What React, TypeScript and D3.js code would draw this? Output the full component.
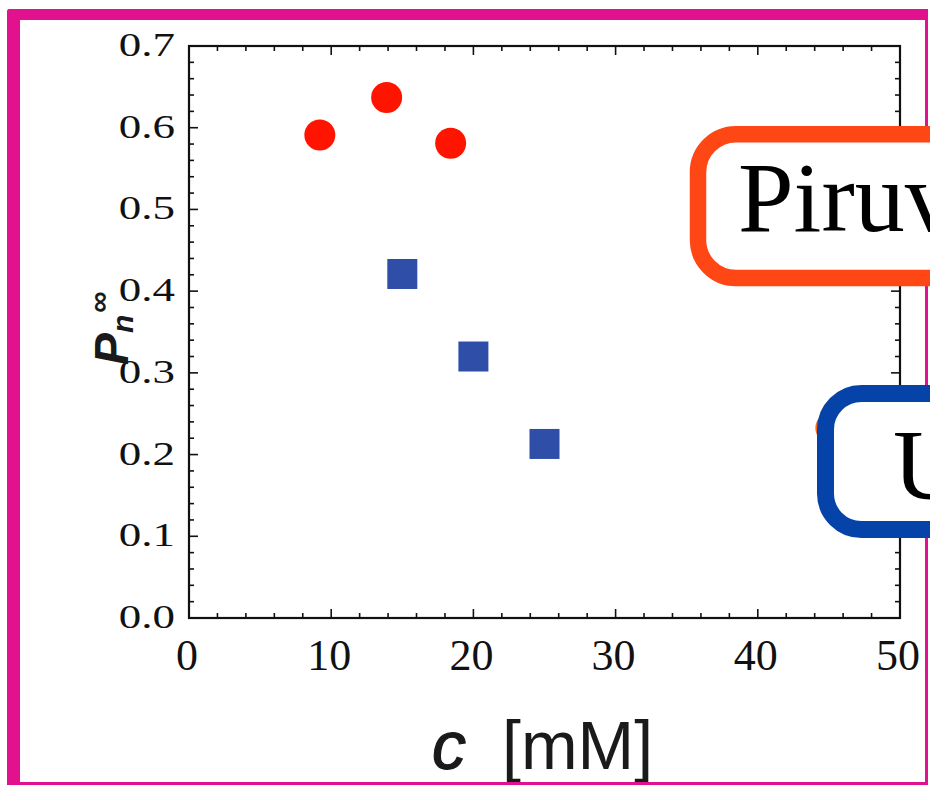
import React from "react";
import * as d3 from "d3";

// Data
const pyruvateC = [9.2, 13.9, 18.4];
const pyruvateP = [0.591, 0.637, 0.581];
const ureaC = [15, 20, 25];
const ureaP = [0.421, 0.32, 0.213];
const hiddenC = [45.1];
const hiddenP = [0.2325];

const xTickValues = [0, 10, 20, 30, 40, 50];
const yTickValues = [0, 0.1, 0.2, 0.3, 0.4, 0.5, 0.6, 0.7];
const labelTop = "Piruv";
const labelBottom = "U";

const W = 930;
const H = 787;
const left = 189, right = 900, top = 46, bottom = 618;

export default function App() {
  const x = d3.scaleLinear().domain([0, 50]).range([left, right]);
  const y = d3.scaleLinear().domain([0, 0.7]).range([bottom, top]);

  const xMinor = d3.range(0, 50.001, 2);
  const yMinor = d3.range(0, 0.7001, 0.02);
  const isMajorX = (v: number) => Math.round(v) % 10 === 0;
  const isMajorY = (v: number) => Math.round(v * 100) % 10 === 0;
  const magenta = "#e2128f";
  const serif = "'Liberation Serif', 'Times New Roman', serif";
  const sans = "'Liberation Sans', Arial, sans-serif";

  return (
    <svg
      width={W}
      height={H}
      viewBox={`0 0 ${W} ${H}`}
      style={{ position: "absolute", left: 0, top: 0, background: "#fff" }}
    >
      <defs>
        <clipPath id="pageClip">
          <rect x={0} y={0} width={W} height={H} />
        </clipPath>
      </defs>
      <rect x={0} y={0} width={W} height={H} fill="#fff" />

      {/* Plot frame */}
      <rect x={left} y={top} width={right - left} height={bottom - top} fill="none" stroke="#111" strokeWidth={2.2} />

      {/* X ticks (bottom and top, inward) */}
      {xMinor.map((v, i) => {
        const len = isMajorX(v) ? 9 : 5;
        return (
          <g key={"xt" + i} stroke="#111" strokeWidth={1.6}>
            <line x1={x(v)} x2={x(v)} y1={bottom} y2={bottom - len} />
            <line x1={x(v)} x2={x(v)} y1={top} y2={top + len} />
          </g>
        );
      })}
      {/* Y ticks (left and right, inward) */}
      {yMinor.map((v, i) => {
        const len = isMajorY(v) ? 9 : 5;
        return (
          <g key={"yt" + i} stroke="#111" strokeWidth={1.6}>
            <line x1={left} x2={left + len} y1={y(v)} y2={y(v)} />
            <line x1={right} x2={right - len} y1={y(v)} y2={y(v)} />
          </g>
        );
      })}

      {/* X tick labels */}
      {xTickValues.map((v) => (
        <text key={"xl" + v} x={x(v) - 2} y={670} textAnchor="middle" fontFamily={serif} fontSize={44} fill="#111">
          {v}
        </text>
      ))}
      {/* Y tick labels */}
      {yTickValues.map((v) => (
        <text
          key={"yl" + v}
          transform={`translate(175, ${y(v) + 10}) scale(1, 0.76)`}
          textAnchor="end"
          fontFamily={serif}
          fontSize={45}
          fill="#111"
        >
          {v.toFixed(1)}
        </text>
      ))}

      {/* Axis titles */}
      <text x={432} y={769} fontFamily={sans} fontSize={68} fill="#1a1a1a">
        <tspan fontStyle="italic" stroke="#1a1a1a" strokeWidth={1.2}>c</tspan>
        <tspan dx={36}>[mM]</tspan>
      </text>
      <text transform="translate(128, 365) rotate(-90)" fontFamily={sans} fontWeight="bold" fontSize={48} fill="#1a1a1a">
        <tspan fontStyle="italic">P</tspan>
        <tspan fontSize={30} fontStyle="italic" dy={5}>n</tspan>
        <tspan fontSize={30} dx={2} dy={-24}>∞</tspan>
      </text>

      {/* Data */}
      {hiddenC.map((c, i) => (
        <circle key={"h" + i} cx={x(c)} cy={y(hiddenP[i])} r={15} fill="#ff6a10" />
      ))}
      {pyruvateC.map((c, i) => (
        <circle key={"p" + i} cx={x(c)} cy={y(pyruvateP[i])} r={15.5} fill="#ff1400" />
      ))}
      {ureaC.map((c, i) => (
        <rect key={"u" + i} x={x(c) - 15} y={y(ureaP[i]) - 15} width={30} height={30} fill="#2f4ea8" />
      ))}

      {/* Magenta border */}
      <rect x={7} y={9} width={13} height={776} fill={magenta} rx={3} />
      <rect x={7} y={9} width={921} height={11} fill={magenta} rx={3} />
      <rect x={925} y={9} width={3} height={776} fill={magenta} />
      <rect x={7} y={782} width={921} height={3} fill={magenta} />

      {/* Overlay label boxes */}
      <g clipPath="url(#pageClip)">
        <rect x={698} y={134.3} width={500} height={143.7} rx={38} ry={38} fill="#fff" stroke="#ff4615" strokeWidth={16.5} />
        <text x={738} y={231} fontFamily={serif} fontSize={100} fill="#000">
          {labelTop}
        </text>
        <rect x={825.5} y={393.5} width={400} height={136} rx={36} ry={36} fill="#fff" stroke="#0543a8" strokeWidth={17} />
        <text x={893} y={498} fontFamily={serif} fontSize={100} fill="#000">
          {labelBottom}
        </text>
      </g>
    </svg>
  );
}
